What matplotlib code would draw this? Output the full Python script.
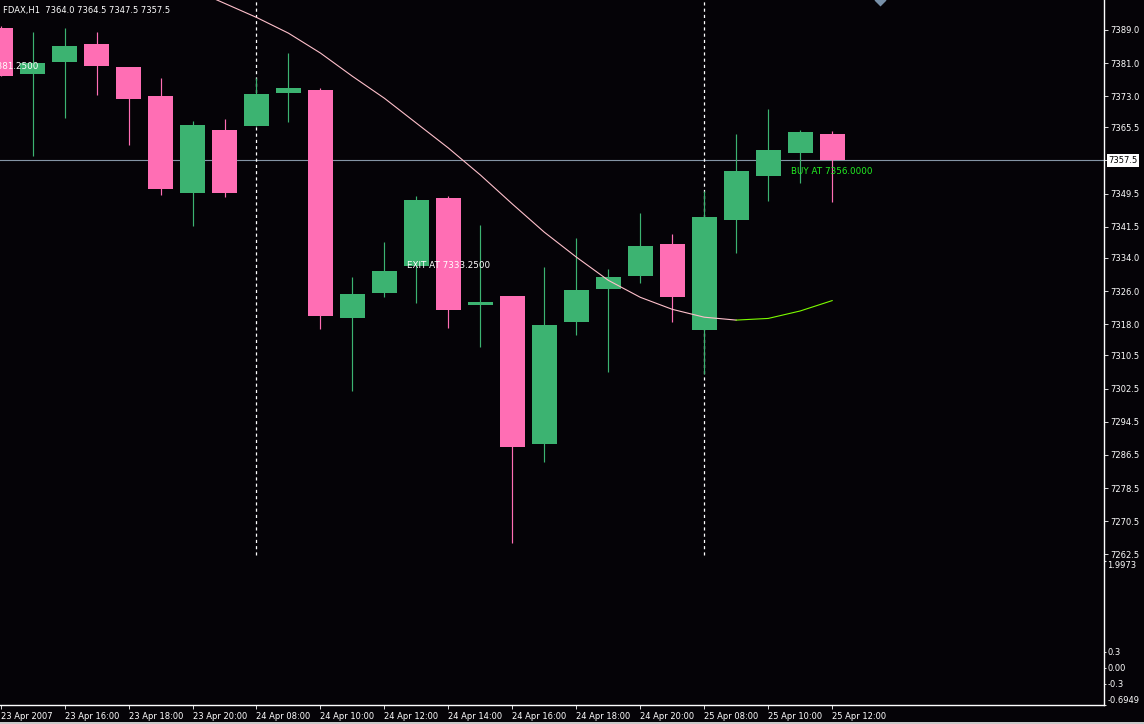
import matplotlib
matplotlib.use('Agg')
import matplotlib.pyplot as plt
import matplotlib.transforms as mtransforms
from matplotlib.patches import Rectangle
import numpy as np

# FDAX H1 bars, 23 Apr 14:00 .. 25 Apr 12:00
opens = [7389.4, 7378.4, 7381.2, 7385.6, 7380.0, 7373.0, 7349.7, 7364.8, 7365.9,
         7373.8, 7374.5, 7319.6, 7325.6, 7332.1, 7348.4, 7322.7, 7324.8, 7289.0,
         7318.6, 7326.5, 7329.7, 7337.3, 7316.7, 7343.2, 7353.8, 7359.3, 7364.0]
highs = [7390.0, 7388.4, 7389.4, 7388.4, 7380.0, 7377.4, 7367.0, 7367.5, 7377.4,
         7383.4, 7374.9, 7329.4, 7337.8, 7348.9, 7348.9, 7341.9, 7324.8, 7331.8,
         7338.8, 7331.3, 7344.8, 7339.7, 7350.1, 7363.8, 7369.9, 7364.8, 7364.5]
lows = [7377.8, 7358.6, 7367.7, 7373.3, 7361.2, 7349.1, 7341.7, 7348.7, 7365.8,
        7366.8, 7316.8, 7302.0, 7324.6, 7323.2, 7317.1, 7312.6, 7265.3, 7284.8,
        7315.5, 7306.5, 7328.0, 7318.6, 7306.1, 7335.2, 7347.8, 7352.1, 7347.5]
closes = [7377.8, 7381.0, 7385.1, 7380.2, 7372.3, 7350.7, 7366.0, 7349.7, 7373.5,
          7374.9, 7320.0, 7325.3, 7330.8, 7347.9, 7321.5, 7323.3, 7288.4, 7317.8,
          7326.2, 7329.4, 7336.8, 7324.5, 7343.8, 7355.0, 7360.0, 7364.3, 7357.5]

# moving average, starts at bar 6, turns green at bar 23
ma_start = 6
ma_turn = 23
ma = [7398.8, 7395.4, 7392.0, 7388.2, 7383.4, 7377.8, 7372.5, 7366.5, 7360.5,
      7354.0, 7347.0, 7340.2, 7334.2, 7328.6, 7324.5, 7321.6, 7319.7, 7319.0,
      7319.4, 7321.2, 7323.7]

time_labels = ["23 Apr 2007", "23 Apr 16:00", "23 Apr 18:00", "23 Apr 20:00",
               "24 Apr 08:00", "24 Apr 10:00", "24 Apr 12:00", "24 Apr 14:00",
               "24 Apr 16:00", "24 Apr 18:00", "24 Apr 20:00", "25 Apr 08:00",
               "25 Apr 10:00", "25 Apr 12:00"]
day_starts = [8, 22]

price_ticks = [7389.0, 7381.0, 7373.0, 7365.5, 7357.5, 7349.5, 7341.5, 7334.0,
               7326.0, 7318.0, 7310.5, 7302.5, 7294.5, 7286.5, 7278.5, 7270.5, 7262.5]
bid = 7357.5
exit_price = 7333.25
buy_price = 7356.0
entry_price = 7381.25

osc_min, osc_max = -0.6949, 1.9973
osc_ticks = [osc_min, -0.3, 0.0, 0.3, osc_max]
osc_labels = ["-0.6949", "-0.3", "0.00", "0.3", "1.9973"]

bg = '#050307'
up_col = '#3CB371'
dn_col = '#FF6EB4'
plt.rcParams['font.family'] = ['DejaVu Sans']

W, H = 1144, 724
fig = plt.figure(figsize=(W / 100, H / 100), dpi=100, facecolor=bg)
ax = fig.add_axes([0, 1 - 561 / H, 1104 / W, 561 / H], facecolor=bg)
ax2 = fig.add_axes([0, 1 - 705 / H, 1104 / W, 144 / H], facecolor=bg, sharex=ax)

# candles
x = np.arange(len(opens))
o = np.array(opens)
c = np.array(closes)
cols = [up_col if cc >= oo else dn_col for oo, cc in zip(o, c)]
ax.vlines(x, lows, highs, colors=cols, lw=0.85, zorder=2)
body_h = np.maximum(np.abs(c - o), 0.6)
ax.bar(x, body_h, bottom=np.minimum(o, c), width=0.78, color=cols, lw=0, zorder=3)

# moving average
ma_x = np.arange(ma_start, ma_start + len(ma))
k = ma_turn - ma_start
ax.plot(ma_x[:k + 1], ma[:k + 1], color='#FFC0CB', lw=0.8, zorder=4)
ax.plot(ma_x[k:], ma[k:], color='#7CFC00', lw=0.8, zorder=4)

# bid line and day separators
ax.axhline(bid, color='#8494A4', lw=0.8, zorder=1)
ax.vlines(day_starts, 7262.4, 7400, colors='white', lw=0.9, linestyles=(0, (2.5, 2.5)), zorder=1)

# trade labels (the entry label is cut by the left edge, as in the terminal)
ax.text(-0.3, entry_price, "7381.2500", color='white', fontsize=6.3, ha='left', va='top',
        clip_on=True, zorder=6)
ax.text(12.72, exit_price, "EXIT AT 7333.2500", color='white', fontsize=6.3, ha='left',
        va='top', zorder=6)
ax.text(24.72, buy_price, "BUY AT 7356.0000", color='#22F022', fontsize=6.3, ha='left',
        va='top', zorder=6)
ax.text(0.003, 0.99, "FDAX,H1  7364.0 7364.5 7347.5 7357.5", transform=ax.transAxes,
        color='white', fontsize=6.0, ha='left', va='top', zorder=6)

# chart shift marker
ax.plot([27.5], [1.0], marker='D', ms=6, color='#7890A8', mec='none',
        transform=mtransforms.blended_transform_factory(ax.transData, ax.transAxes),
        clip_on=True)

ax.set_xlim(-0.02, 34.5)
ax.set_ylim(7260.9, 7396.2)
ax2.set_ylim(osc_min, osc_max)

for a in (ax, ax2):
    for s in a.spines.values():
        s.set_visible(False)
    a.spines['right'].set_visible(True)
    a.spines['right'].set_color('white')
    a.spines['right'].set_linewidth(1.0)
    a.yaxis.tick_right()
    a.tick_params(axis='y', colors='white', labelsize=6, length=3, width=0.6, pad=1.5)
ax2.spines['bottom'].set_visible(True)
ax2.spines['bottom'].set_color('white')
ax2.spines['bottom'].set_linewidth(1.0)

ax.set_yticks(price_ticks)
ax.set_yticklabels(["%.1f" % p for p in price_ticks])
ax.tick_params(axis='x', bottom=False, labelbottom=False)

ax2.set_yticks(osc_ticks)
ax2.set_yticklabels(osc_labels)
ax2.tick_params(axis='y', length=1.5, pad=1)
lbls = ax2.get_yticklabels()
lbls[0].set_verticalalignment('bottom')
lbls[-1].set_verticalalignment('top')
lbls[-1].set_y(osc_max)

ax2.set_xticks(np.arange(0, 27, 2))
ax2.set_xticklabels(time_labels, ha='left')
ax2.tick_params(axis='x', colors='white', labelsize=6, length=3, width=0.6, pad=2)

# bid price box on the axis
ax.text(1.0 + 4.5 / 1104, bid, "%.1f" % bid,
        transform=mtransforms.blended_transform_factory(ax.transAxes, ax.transData),
        ha='left', va='center', fontsize=6, color='black', clip_on=False, zorder=10,
        bbox=dict(facecolor='white', edgecolor='none', pad=1.2))

# status bar strip
fig.patches.append(Rectangle((0, 0), 1, 2.5 / H, transform=fig.transFigure,
                             facecolor='#C8C8C8', edgecolor='none'))

fig.savefig('out.png', dpi=100, facecolor=bg)
